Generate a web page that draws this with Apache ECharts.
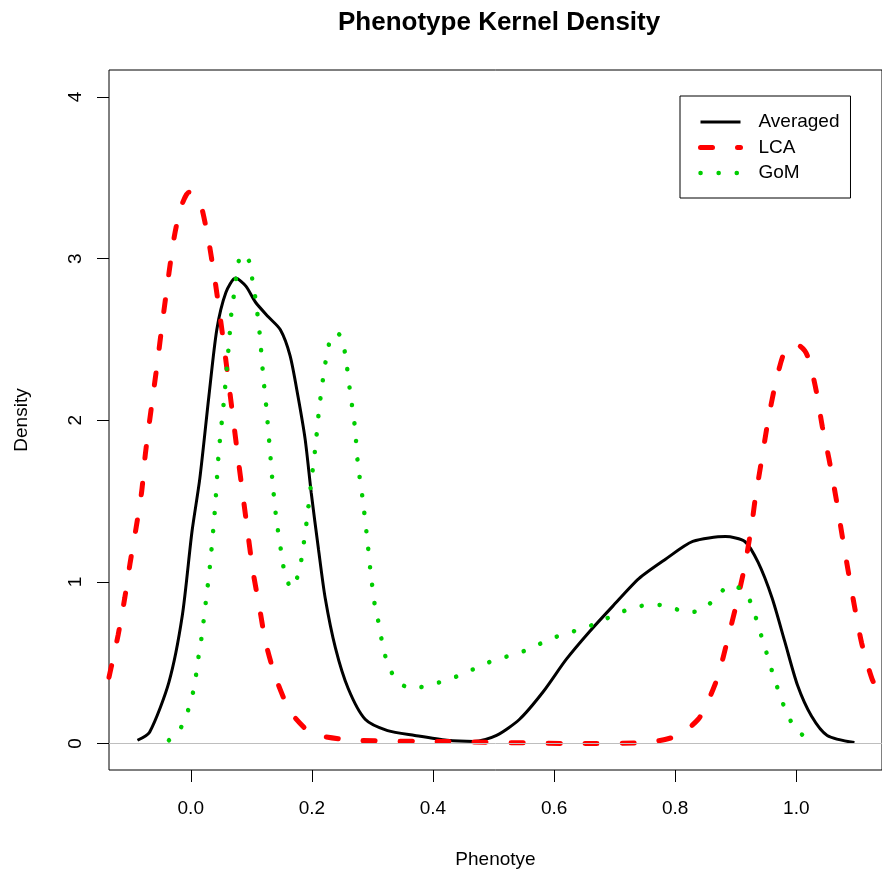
<!DOCTYPE html>
<html>
<head>
<meta charset="utf-8">
<script src="https://cdn.jsdelivr.net/npm/echarts@6/dist/echarts.min.js"></script>
<style>
    body {
        margin: 0;
    }

    #kernelDensity {
        width: 882px;
        height: 874px
    }
</style>
</head>
<body>
<div id="kernelDensity"></div>
<script>
    // values
    const avgX = [-0.088, -0.068, -0.036, -0.014, 0.002, 0.015, 0.030, 0.043, 0.058, 0.074,
        0.091, 0.107, 0.128, 0.148, 0.164, 0.177, 0.189, 0.199, 0.211, 0.222,
        0.239, 0.260, 0.288, 0.325, 0.370, 0.423, 0.468, 0.505, 0.543, 0.582,
        0.620, 0.658, 0.697, 0.740, 0.784, 0.829, 0.883, 0.915, 0.937, 0.960,
        0.981, 1.002, 1.025, 1.051, 1.096];
    const avgY = [0.02, 0.07, 0.38, 0.79, 1.31, 1.64, 2.15, 2.56, 2.79, 2.88,
        2.83, 2.73, 2.64, 2.56, 2.40, 2.15, 1.88, 1.55, 1.20, 0.90,
        0.59, 0.34, 0.15, 0.08, 0.05, 0.02, 0.013, 0.05, 0.15, 0.32,
        0.52, 0.69, 0.85, 1.02, 1.14, 1.25, 1.28, 1.25, 1.12, 0.90,
        0.63, 0.36, 0.17, 0.05, 0.006];

    const lcaX = [-0.135, -0.120, -0.109, -0.100, -0.090, -0.081, -0.075, -0.065, -0.055, -0.047,
        -0.036, -0.027, -0.016, -0.003, 0.008, 0.017, 0.030, 0.041, 0.050, 0.058,
        0.066, 0.071, 0.079, 0.087, 0.095, 0.103, 0.114, 0.124, 0.141, 0.164,
        0.190, 0.210, 0.271, 0.423, 0.641, 0.751, 0.805, 0.838, 0.854, 0.871,
        0.887, 0.899, 0.915, 0.927, 0.932, 0.943, 0.953, 0.964, 0.978, 0.989,
        1.000, 1.014, 1.022, 1.033, 1.043, 1.054, 1.066, 1.076, 1.086, 1.097,
        1.108, 1.125, 1.141];
    const lcaY = [0.41, 0.67, 0.90, 1.12, 1.34, 1.56, 1.79, 2.08, 2.36, 2.60,
        2.91, 3.14, 3.32, 3.41, 3.39, 3.33, 3.10, 2.84, 2.60, 2.37,
        2.13, 1.98, 1.74, 1.51, 1.28, 1.06, 0.83, 0.62, 0.40, 0.20,
        0.09, 0.05, 0.02, 0.012, 0.0, 0.006, 0.05, 0.15, 0.26, 0.42,
        0.65, 0.83, 1.10, 1.37, 1.51, 1.76, 1.99, 2.20, 2.40, 2.46,
        2.47, 2.43, 2.36, 2.18, 1.96, 1.76, 1.51, 1.28, 1.06, 0.83,
        0.62, 0.40, 0.28];

    const gomX = [-0.036, -0.016, -0.004, 0.004, 0.009, 0.013, 0.018, 0.025, 0.032, 0.040,
        0.046, 0.055, 0.063, 0.068, 0.073, 0.076, 0.084, 0.097, 0.102, 0.107,
        0.114, 0.119, 0.125, 0.130, 0.135, 0.141, 0.150, 0.155, 0.166, 0.178,
        0.184, 0.192, 0.199, 0.206, 0.212, 0.220, 0.225, 0.232, 0.240, 0.248,
        0.255, 0.263, 0.271, 0.276, 0.284, 0.291, 0.297, 0.305, 0.312, 0.317,
        0.325, 0.338, 0.363, 0.394, 0.420, 0.450, 0.478, 0.505, 0.533, 0.563,
        0.589, 0.619, 0.647, 0.674, 0.702, 0.732, 0.760, 0.789, 0.819, 0.846,
        0.869, 0.891, 0.915, 0.928, 0.937, 0.946, 0.955, 0.963, 0.973, 0.984,
        0.999, 1.022];
    const gomY = [0.02, 0.10, 0.21, 0.32, 0.43, 0.54, 0.66, 0.88, 1.11, 1.45,
        1.79, 2.13, 2.47, 2.70, 2.81, 2.92, 3.03, 2.98, 2.86, 2.75,
        2.53, 2.30, 2.07, 1.85, 1.62, 1.40, 1.17, 1.06, 0.96, 1.05,
        1.17, 1.39, 1.62, 1.84, 2.07, 2.30, 2.41, 2.52, 2.54, 2.52,
        2.41, 2.18, 1.96, 1.73, 1.51, 1.28, 1.06, 0.83, 0.72, 0.60,
        0.50, 0.40, 0.34, 0.36, 0.39, 0.43, 0.48, 0.52, 0.55, 0.59,
        0.64, 0.68, 0.71, 0.75, 0.80, 0.84, 0.86, 0.85, 0.81, 0.83,
        0.91, 0.98, 0.94, 0.84, 0.73, 0.62, 0.51, 0.41, 0.30, 0.19,
        0.09, 0.02];

    const xTicks = [0, 0.2, 0.4, 0.6, 0.8, 1.0];
    const yTicks = [0, 1, 2, 3, 4];
    const seriesNames = ['Averaged', 'LCA', 'GoM'];

    function pairs(xs, ys) {
        return xs.map((x, i) => [x, ys[i]]);
    }

    const font = 'Liberation Sans, Arial, sans-serif';
    const e = echarts.init(document.getElementById('kernelDensity'));
    e.setOption({
        animation: false,
        backgroundColor: '#fff',
        textStyle: {fontFamily: font},
        title: {
            text: 'Phenotype Kernel Density',
            left: 333,
            top: 5,
            textStyle: {fontSize: 26, fontWeight: 'bold', color: '#000', fontFamily: font}
        },
        legend: {
            data: seriesNames,
            orient: 'vertical',
            left: 680,
            top: 96,
            padding: [16, 11, 15, 18],
            itemWidth: 40,
            itemHeight: 20,
            itemGap: 5.5,
            borderColor: '#000',
            borderWidth: 1,
            borderRadius: 0,
            backgroundColor: '#fff',
            itemStyle: {opacity: 0},
            lineStyle: {width: 'inherit'},
            textStyle: {fontSize: 19, color: '#000', padding: [0, 0, 0, 13], lineHeight: 20}
        },
        grid: {
            left: 109,
            right: -6,
            top: 70,
            bottom: 102.5,
            show: true,
            borderColor: '#000',
            borderWidth: 1
        },
        xAxis: {
            type: 'value',
            min: -0.135,
            max: 1.1415,
            name: 'Phenotye',
            nameLocation: 'middle',
            nameGap: 80,
            nameTextStyle: {fontSize: 19, color: '#000'},
            axisLine: {show: false, onZero: false},
            axisTick: {
                show: true,
                length: 12,
                customValues: xTicks,
                lineStyle: {color: '#000', width: 1}
            },
            axisLabel: {
                customValues: xTicks,
                margin: 29,
                fontSize: 19,
                color: '#000',
                formatter: v => v.toFixed(1)
            },
            splitLine: {show: false}
        },
        yAxis: {
            type: 'value',
            min: -0.164,
            max: 4.167,
            name: 'Density',
            nameLocation: 'middle',
            nameGap: 78,
            nameTextStyle: {fontSize: 19, color: '#000'},
            axisLine: {show: false, onZero: false},
            axisTick: {
                show: true,
                length: 12,
                customValues: yTicks,
                lineStyle: {color: '#000', width: 1}
            },
            axisLabel: {
                customValues: yTicks,
                rotate: 90,
                margin: 24,
                fontSize: 19,
                color: '#000'
            },
            splitLine: {show: false}
        },
        series: [
            {
                name: 'Averaged',
                type: 'line',
                symbol: 'none',
                smooth: 0.25,
                color: '#000',
                lineStyle: {color: '#000', width: 3},
                data: pairs(avgX, avgY),
                z: 3,
                markLine: {
                    silent: true,
                    symbol: 'none',
                    label: {show: false},
                    lineStyle: {color: '#bebebe', width: 1, type: 'solid'},
                    data: [{yAxis: 0}]
                }
            },
            {
                name: 'LCA',
                type: 'line',
                symbol: 'none',
                smooth: 0.25,
                color: '#ff0000',
                lineStyle: {color: '#ff0000', width: 5, type: [12, 25], cap: 'round'},
                data: pairs(lcaX, lcaY),
                z: 4
            },
            {
                name: 'GoM',
                type: 'line',
                symbol: 'none',
                smooth: 0.25,
                color: '#00cd00',
                lineStyle: {color: '#00cd00', width: 4.5, type: [0.1, 18], cap: 'round'},
                data: pairs(gomX, gomY),
                z: 5
            }
        ]
    });
</script>
</body>
</html>
